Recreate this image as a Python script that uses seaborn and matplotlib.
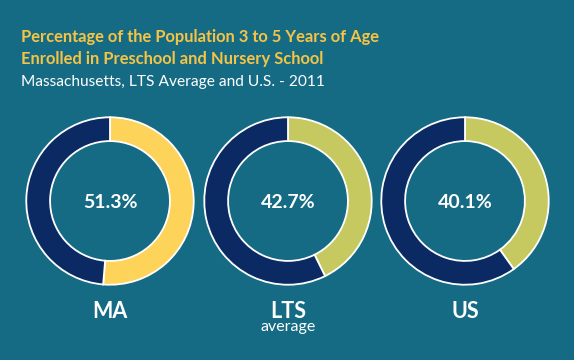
import matplotlib
matplotlib.use("Agg")
import matplotlib.pyplot as plt
import seaborn as sns

# data
regions = ["MA", "LTS", "US"]
sublabels = ["", "average", ""]
enrolled_pct = [51.3, 42.7, 40.1]

BG = "#156b84"
NAVY = "#0b2a63"
TITLE_YELLOW = "#f6c445"
highlight = ["#fdd35a", "#c6c95f", "#c6c95f"]

sns.set_style("white")
plt.rcParams["font.family"] = ["Lato", "DejaVu Sans"]

W, H = 574, 360
fig = plt.figure(figsize=(W / 100, H / 100), dpi=100, facecolor=BG)


def px_axes(cx, cy, r):
    return fig.add_axes([(cx - r) / W, 1 - (cy + r) / H, 2 * r / W, 2 * r / H])


centers_x = [110, 288, 465]
cy, r = 201, 85

for i, region in enumerate(regions):
    ax = px_axes(centers_x[i], cy, r)
    ax.set_facecolor(BG)
    val = enrolled_pct[i]
    ax.pie(
        [val, 100 - val],
        colors=[highlight[i], NAVY],
        startangle=90,
        counterclock=False,
        radius=0.985,
        wedgeprops=dict(width=0.28, edgecolor="white", linewidth=1.3),
    )
    ax.set_xlim(-1, 1)
    ax.set_ylim(-1, 1)
    ax.set_aspect("equal")
    ax.axis("off")

    fig.text(centers_x[i] / W, 1 - 202 / H, f"{val:.1f}%", color="white",
             fontsize=14, fontweight="bold", ha="center", va="center")
    fig.text(centers_x[i] / W, 1 - 311 / H, region, color="white",
             fontsize=15.5, fontweight="bold", ha="center", va="center")
    if sublabels[i]:
        fig.text(centers_x[i] / W, 1 - 327 / H, sublabels[i], color="white",
                 fontsize=11.5, ha="center", va="center")

fig.text(21 / W, 1 - 42 / H, "Percentage of the Population 3 to 5 Years of Age",
         color=TITLE_YELLOW, fontsize=11.9, fontweight="bold", ha="left", va="baseline")
fig.text(21 / W, 1 - 64 / H, "Enrolled in Preschool and Nursery School",
         color=TITLE_YELLOW, fontsize=11.9, fontweight="bold", ha="left", va="baseline")
fig.text(21 / W, 1 - 86 / H, "Massachusetts, LTS Average and U.S. - 2011",
         color="white", fontsize=11.2, ha="left", va="baseline")

fig.savefig("out.png", dpi=100, facecolor=BG)
